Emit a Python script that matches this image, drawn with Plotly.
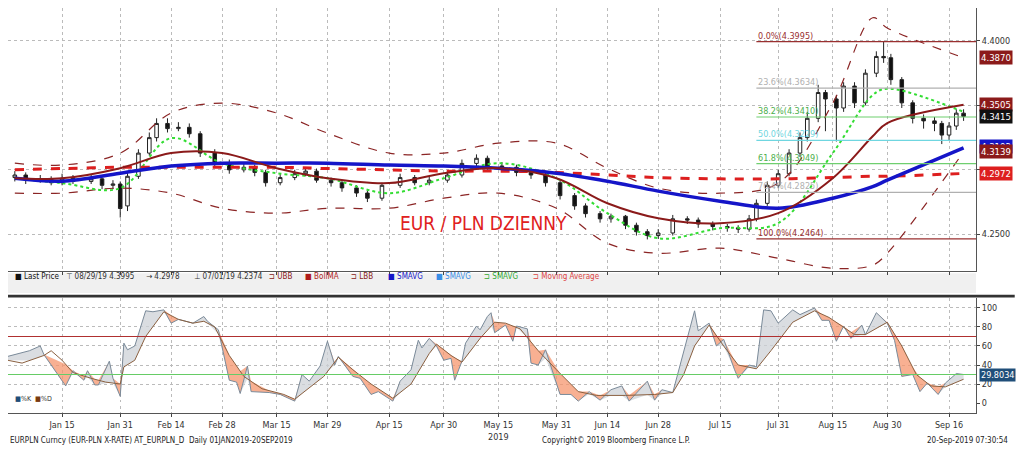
import pandas as pd
import numpy as np
import plotly.graph_objects as go
from plotly.subplots import make_subplots

BASE = pd.Timestamp("2019-01-01")


def days_to_dates(days):
    return [BASE + pd.Timedelta(days=d) for d in days]


# candles (day offset from 1 Jan 2019)
candle_days = [1, 4, 8, 11, 14, 17, 22, 25, 28, 30, 32, 35, 38, 40, 43, 46, 49, 52, 56, 60,
               64, 67, 70, 74, 78, 81, 84, 88, 91, 95, 98, 102, 107, 111, 115, 120, 124, 128, 131, 135,
               139, 143, 147, 151, 155, 158, 162, 165, 169, 172, 175, 178, 182, 186, 189, 193, 197, 200, 203, 205,
               208, 211, 214, 217, 219, 222, 224, 227, 229, 232, 235, 238, 240, 242, 245, 248, 251, 254, 256, 258,
               260, 262]
close = [4.296, 4.292, 4.293, 4.290, 4.2935, 4.291, 4.293, 4.288, 4.289, 4.270, 4.295, 4.313, 4.325, 4.336, 4.332, 4.333, 4.328, 4.313, 4.305, 4.300,
         4.302, 4.298, 4.290, 4.294, 4.297, 4.299, 4.292, 4.290, 4.286, 4.282, 4.278, 4.288, 4.294, 4.290, 4.292, 4.296, 4.305, 4.309, 4.303, 4.302,
         4.298, 4.296, 4.290, 4.280, 4.272, 4.266, 4.262, 4.264, 4.257, 4.252, 4.249, 4.251, 4.262, 4.261, 4.258, 4.256, 4.255, 4.254, 4.262, 4.274,
         4.288, 4.297, 4.313, 4.325, 4.340, 4.360, 4.355, 4.348, 4.365, 4.352, 4.375, 4.388, 4.387, 4.370, 4.352, 4.340, 4.338, 4.336, 4.327, 4.334,
         4.344, 4.3415]
open_ = [4.294, 4.296, 4.292, 4.293, 4.290, 4.2935, 4.291, 4.293, 4.288, 4.289, 4.272, 4.295, 4.313, 4.325, 4.336, 4.332, 4.333, 4.328, 4.313, 4.305,
         4.300, 4.302, 4.298, 4.290, 4.294, 4.297, 4.299, 4.292, 4.290, 4.286, 4.282, 4.278, 4.288, 4.294, 4.290, 4.292, 4.296, 4.305, 4.309, 4.303,
         4.302, 4.298, 4.296, 4.290, 4.280, 4.272, 4.266, 4.262, 4.264, 4.257, 4.252, 4.249, 4.251, 4.262, 4.261, 4.258, 4.256, 4.255, 4.254, 4.262,
         4.274, 4.288, 4.297, 4.313, 4.325, 4.340, 4.360, 4.355, 4.348, 4.365, 4.352, 4.375, 4.388, 4.387, 4.370, 4.352, 4.340, 4.338, 4.336, 4.327,
         4.334, 4.344]
high = [4.299, 4.298, 4.296, 4.295, 4.297, 4.296, 4.296, 4.294, 4.292, 4.291, 4.298, 4.316, 4.329, 4.340, 4.340, 4.337, 4.336, 4.330, 4.316, 4.308,
        4.305, 4.304, 4.300, 4.297, 4.300, 4.302, 4.301, 4.294, 4.292, 4.288, 4.284, 4.290, 4.297, 4.296, 4.295, 4.299, 4.308, 4.312, 4.311, 4.306,
        4.304, 4.300, 4.298, 4.292, 4.282, 4.274, 4.268, 4.266, 4.265, 4.259, 4.254, 4.254, 4.265, 4.264, 4.263, 4.260, 4.258, 4.257, 4.265, 4.277,
        4.291, 4.300, 4.316, 4.329, 4.345, 4.366, 4.362, 4.358, 4.368, 4.368, 4.378, 4.392, 4.3995, 4.390, 4.372, 4.354, 4.343, 4.341, 4.338, 4.337,
        4.347, 4.347]
low = [4.291, 4.289, 4.290, 4.288, 4.288, 4.289, 4.289, 4.285, 4.285, 4.263, 4.268, 4.293, 4.311, 4.322, 4.329, 4.330, 4.325, 4.310, 4.302, 4.297,
       4.298, 4.295, 4.287, 4.288, 4.292, 4.295, 4.290, 4.287, 4.283, 4.279, 4.275, 4.276, 4.286, 4.288, 4.288, 4.290, 4.294, 4.303, 4.300, 4.299,
       4.295, 4.293, 4.287, 4.277, 4.269, 4.263, 4.259, 4.259, 4.254, 4.249, 4.246, 4.2464, 4.249, 4.258, 4.255, 4.253, 4.252, 4.251, 4.252, 4.260,
       4.272, 4.286, 4.295, 4.310, 4.322, 4.337, 4.330, 4.322, 4.345, 4.348, 4.350, 4.372, 4.383, 4.366, 4.348, 4.336, 4.332, 4.330, 4.320, 4.323,
       4.331, 4.338]

# overlays
line_days = [1, 14, 30, 44, 58, 73, 87, 104, 119, 134, 150, 164, 178, 195, 211, 226, 237, 241, 262]
sma_blue = [4.2935, 4.2912, 4.2974, 4.3029, 4.3052, 4.3052, 4.3052, 4.3037, 4.3029, 4.3013, 4.2974, 4.2912, 4.2835, 4.2757, 4.2702, 4.278, 4.287, 4.292, 4.317]
sma_red = [4.300, 4.301, 4.302, 4.302, 4.302, 4.302, 4.301, 4.300, 4.299, 4.299, 4.298, 4.296, 4.294, 4.293, 4.293, 4.294, 4.295, 4.295, 4.2972]
boll_ma = [4.2935, 4.2935, 4.3013, 4.313, 4.313, 4.3013, 4.2935, 4.2897, 4.2974, 4.3013, 4.2935, 4.2741, 4.2625, 4.2586, 4.2664, 4.2935, 4.326, 4.3363, 4.3505]
ubb = [4.3052, 4.3037, 4.313, 4.3441, 4.3518, 4.3441, 4.3285, 4.313, 4.313, 4.3207, 4.3207, 4.3013, 4.2858, 4.2819, 4.2897, 4.3518, 4.418, 4.4101, 4.387]
lbb = [4.2819, 4.2819, 4.2858, 4.2819, 4.2702, 4.2664, 4.2702, 4.2702, 4.278, 4.2819, 4.2702, 4.243, 4.2353, 4.2392, 4.2314, 4.2236, 4.226, 4.2353, 4.3139]
sma_green = [4.2935, 4.2897, 4.2858, 4.3246, 4.3052, 4.2974, 4.2935, 4.2819, 4.2935, 4.3052, 4.2935, 4.2664, 4.2469, 4.2547, 4.2586, 4.313, 4.358, 4.363, 4.345]

# fibonacci retracement
fib_names = ["0.0%", "23.6%", "38.2%", "50.0%", "61.8%", "76.4%", "100.0%", "123.6%"]
fib_levels = [4.3995, 4.3634, 4.3410, 4.3229, 4.3049, 4.2825, 4.2464, 4.2103]
fib_colors = ["#9a3030", "#b0b0b0", "#6fcf6f", "#6fd6e0", "#6fcf6f", "#b0b0b0", "#9a3030", "#b0b0b0"]

# stochastic
k_days = [-1, 5, 8, 9, 15, 17, 20, 21, 23, 24, 27, 28, 30, 31, 32, 34, 37, 39, 42, 44, 46, 50, 53, 54, 57, 60, 62, 63, 65, 66,
          71, 74, 78, 80, 82, 85, 87, 89, 90, 94, 96, 99, 101, 105, 107, 110, 112, 113, 115, 117, 119, 121, 122, 124, 125, 128, 129, 131, 132, 133,
          136, 138, 139, 142, 143, 145, 147, 151, 154, 156, 159, 162, 165, 168, 170, 175, 177, 179, 182, 185, 188, 189, 192, 194, 196, 199, 200, 203, 205, 207,
          209, 211, 215, 217, 221, 223, 225, 227, 229, 231, 234, 235, 238, 241, 243, 245, 248, 250, 252, 255, 257, 260, 262]
k_vals = [49, 55, 60, 51, 18, 34, 24, 34, 19, 19, 44, 26, 7, 63, 56, 60, 97, 96, 98, 84, 88, 84, 91, 86, 77, 24, 22, 10, 39, 12,
          11, 9, 2, 30, 23, 39, 65, 40, 49, 28, 26, 9, 12, 2, 23, 35, 66, 58, 68, 60, 45, 47, 24, 44, 63, 81, 77, 91, 95, 74,
          82, 65, 81, 78, 42, 40, 56, 9, 9, 2, 12, 3, 14, 18, 2, 23, 3, 14, 11, 53, 97, 76, 84, 60, 67, 35, 26, 40, 38, 98,
          97, 84, 98, 93, 100, 87, 87, 65, 81, 68, 82, 72, 95, 84, 66, 28, 30, 12, 21, 9, 21, 31, 30]
d_days = [-1, 3, 9, 11, 14, 17, 22, 26, 30, 31, 34, 37, 42, 46, 50, 53, 56, 60, 64, 69, 75, 78, 80, 86, 90, 94, 99, 105, 110, 115,
          117, 121, 124, 129, 133, 136, 140, 145, 150, 156, 161, 169, 177, 182, 185, 188, 192, 196, 200, 205, 209, 215, 221, 225, 232, 235, 241, 245, 249, 253,
          257, 262]
d_vals = [45, 42, 50, 55, 45, 32, 26, 22, 20, 38, 45, 70, 96, 88, 84, 86, 80, 50, 28, 15, 9, 4, 10, 28, 48, 35, 20, 5, 20, 52,
          62, 50, 43, 68, 85, 84, 78, 55, 35, 12, 8, 8, 9, 11, 30, 60, 82, 60, 40, 36, 55, 85, 97, 90, 72, 72, 85, 60, 30, 18,
          17, 25]

tick_days = [14, 30, 44, 58, 73, 87, 104, 119, 134, 150, 164, 178, 195, 211, 226, 241, 258]
tick_text = ["Jan 15", "Jan 31", "Feb 14", "Feb 28", "Mar 15", "Mar 29", "Apr 15", "Apr 30", "May 15<br>2019",
             "May 31", "Jun 14", "Jun 28", "Jul 15", "Jul 31", "Aug 15", "Aug 30", "Sep 16"]

font = "DejaVu Sans Condensed"
fig = make_subplots(rows=2, cols=1, shared_xaxes=True, vertical_spacing=0.0, row_heights=[0.72, 0.28])

ld = days_to_dates(line_days)
fig.add_trace(go.Scatter(x=ld, y=ubb, mode="lines", line=dict(color="#8b2525", width=1.2, dash="dash", shape="spline")), 1, 1)
fig.add_trace(go.Scatter(x=ld, y=lbb, mode="lines", line=dict(color="#8b2525", width=1.2, dash="dash", shape="spline")), 1, 1)
fig.add_trace(go.Scatter(x=ld, y=sma_green, mode="lines", line=dict(color="#33dd33", width=2, dash="dot", shape="spline")), 1, 1)
fig.add_trace(go.Scatter(x=ld, y=sma_red, mode="lines", line=dict(color="#dd1f1f", width=3, dash="dash", shape="spline")), 1, 1)
fig.add_trace(go.Scatter(x=ld, y=sma_blue, mode="lines", line=dict(color="#1515c8", width=3.5, shape="spline")), 1, 1)
fig.add_trace(go.Scatter(x=ld, y=boll_ma, mode="lines", line=dict(color="#8b1a1a", width=2, shape="spline")), 1, 1)

fig.add_trace(go.Candlestick(
    x=days_to_dates(candle_days), open=open_, high=high, low=low, close=close,
    increasing=dict(line=dict(color="#222222", width=1), fillcolor="white"),
    decreasing=dict(line=dict(color="#222222", width=1), fillcolor="#111111"),
    whiskerwidth=0), 1, 1)

# stochastic fills
kd = days_to_dates(k_days)
d_on_k = np.interp(k_days, d_days, d_vals)
k_arr = np.array(k_vals, dtype=float)
fig.add_trace(go.Scatter(x=kd, y=k_arr, mode="lines", line=dict(width=0)), 2, 1)
fig.add_trace(go.Scatter(x=kd, y=np.maximum(k_arr, d_on_k), mode="lines", line=dict(width=0),
                         fill="tonexty", fillcolor="rgba(245,150,110,0.75)"), 2, 1)
fig.add_trace(go.Scatter(x=kd, y=k_arr, mode="lines", line=dict(width=0)), 2, 1)
fig.add_trace(go.Scatter(x=kd, y=np.minimum(k_arr, d_on_k), mode="lines", line=dict(width=0),
                         fill="tonexty", fillcolor="rgba(205,210,215,0.75)"), 2, 1)
fig.add_trace(go.Scatter(x=kd, y=k_vals, mode="lines", line=dict(color="#7a8a99", width=1)), 2, 1)
fig.add_trace(go.Scatter(x=days_to_dates(d_days), y=d_vals, mode="lines", line=dict(color="#8a6040", width=1)), 2, 1)

for lvl, c in [(70, "#b03030"), (30, "#66cc66")]:
    fig.add_hline(y=lvl, line=dict(color=c, width=1.2), row=2, col=1)

# fib lines and labels
fib_start = BASE + pd.Timedelta(days=205)
fib_end = BASE + pd.Timedelta(days=266)
for name, lvl, c in zip(fib_names, fib_levels, fib_colors):
    if lvl > 4.222:
        fig.add_shape(type="line", x0=fib_start, x1=fib_end, y0=lvl, y1=lvl, xref="x", yref="y",
                      line=dict(color=c, width=1.2))
    fig.add_annotation(x=fib_start, y=lvl, xref="x", yref="y", text=f"{name}({lvl:.4f})",
                       showarrow=False, xanchor="left", yanchor="bottom", yshift=-1,
                       font=dict(family=font, size=9, color=c if c != "#6fcf6f" else "#4caf4c"))

# right-side value boxes
boxes = [(4.3870, "#8b1a1a"), (4.3505, "#8b1a1a"), (4.3415, "#111111"), (4.3139, "#8b1a1a"), (4.2972, "#dd1f1f")]
fig.add_annotation(x=1.003, y=4.3185, xref="paper", yref="y", text="4.3192", showarrow=False, xanchor="left",
                   bgcolor="#1515c8", font=dict(family=font, size=9.5, color="white"), borderpad=1)
for v, c in boxes:
    fig.add_annotation(x=1.003, y=v, xref="paper", yref="y", text=f"{v:.4f}", showarrow=False, xanchor="left",
                       bgcolor=c, font=dict(family=font, size=9.5, color="white"), borderpad=1)
fig.add_annotation(x=1.003, y=29.8, xref="paper", yref="y2", text="29.8034", showarrow=False, xanchor="left",
                   bgcolor="#1f4e79", font=dict(family=font, size=9, color="white"), borderpad=1)

fig.add_annotation(x=BASE + pd.Timedelta(days=130), y=4.259, xref="x", yref="y", text="EUR / PLN DZIENNY",
                   showarrow=False, font=dict(family=font, size=19, color="#e02020"))

# legend strip
fig.add_shape(type="rect", xref="paper", yref="paper", x0=0, x1=1, y0=0.296, y1=0.345,
              fillcolor="#f0f0f0", line=dict(width=0), layer="below")
fig.add_shape(type="rect", xref="paper", yref="paper", x0=0, x1=1.04, y0=0.285, y1=0.292,
              fillcolor="#333333", line=dict(width=0))
legend_items = [("■ Last Price", "#111111"), ("⊤ 08/29/19 4.3995", "#333"), ("→ 4.2978", "#333"),
                ("⊥ 07/01/19 4.2374", "#333"), ("⊐ UBB", "#8b1a1a"), ("■ BollMA", "#b01c1c"), ("⊐ LBB", "#8b1a1a"),
                ("■ SMAVG", "#1515c8"), ("■ SMAVG", "#3a8ee6"), ("⊐ SMAVG", "#33aa33"), ("⊐ Moving Average", "#dd4444")]
xpos = [0.005, 0.058, 0.14, 0.19, 0.268, 0.305, 0.352, 0.39, 0.44, 0.49, 0.54]
for (t, c), xp in zip(legend_items, xpos):
    fig.add_annotation(x=xp, y=0.32, xref="paper", yref="paper", text=t, showarrow=False, xanchor="left",
                       font=dict(family=font, size=8, color=c))
fig.add_annotation(x=0.005, y=0.02, xref="paper", yref="paper", text="<span style='color:#1f4e79'>■</span>%K  <span style='color:#7a3a10'>■</span>%D",
                   showarrow=False, xanchor="left", font=dict(family=font, size=7, color="#333"))

# footer
fig.add_annotation(x=0, y=-0.085, xref="paper", yref="paper", text="EURPLN Curncy (EUR-PLN X-RATE) AT_EURPLN_D  Daily 01JAN2019-20SEP2019",
                   showarrow=False, xanchor="left", font=dict(family=font, size=8, color="#222"))
fig.add_annotation(x=0.55, y=-0.085, xref="paper", yref="paper", text="Copyright© 2019 Bloomberg Finance L.P.",
                   showarrow=False, xanchor="left", font=dict(family=font, size=8, color="#222"))
fig.add_annotation(x=1.035, y=-0.085, xref="paper", yref="paper", text="20-Sep-2019 07:30:54",
                   showarrow=False, xanchor="right", font=dict(family=font, size=8, color="#222"))

grid = dict(showgrid=True, gridcolor="#bbbbbb", griddash="dot", gridwidth=1)
tv = days_to_dates(tick_days)
xr = [BASE - pd.Timedelta(hours=21), BASE + pd.Timedelta(days=265, hours=10)]
fig.update_xaxes(range=xr, tickvals=tv, ticktext=tick_text, rangeslider_visible=False, **grid,
                 showline=True, linecolor="#555", ticks="outside", ticklen=3,
                 tickfont=dict(family=font, size=9, color="#333"))
fig.update_xaxes(showticklabels=False, row=1, col=1)
fig.update_yaxes(side="right", **grid, showline=True, linecolor="#555", ticks="outside", ticklen=3,
                 tickfont=dict(family=font, size=9, color="#333"))
fig.update_yaxes(range=[4.2213, 4.4256], tickvals=[4.25, 4.30, 4.35, 4.40],
                 ticktext=["4.2500", "", "", "4.4000"], domain=[0.35, 1.0], row=1, col=1)
fig.update_yaxes(range=[-10.5, 110.5], tickvals=[0, 20, 40, 60, 80, 100], domain=[0, 0.284], row=2, col=1)

fig.update_layout(width=1008, height=443, showlegend=False, paper_bgcolor="white", plot_bgcolor="white",
                  margin=dict(l=0, r=40, t=0, b=38), font=dict(family=font))
fig.write_html("out.html")
